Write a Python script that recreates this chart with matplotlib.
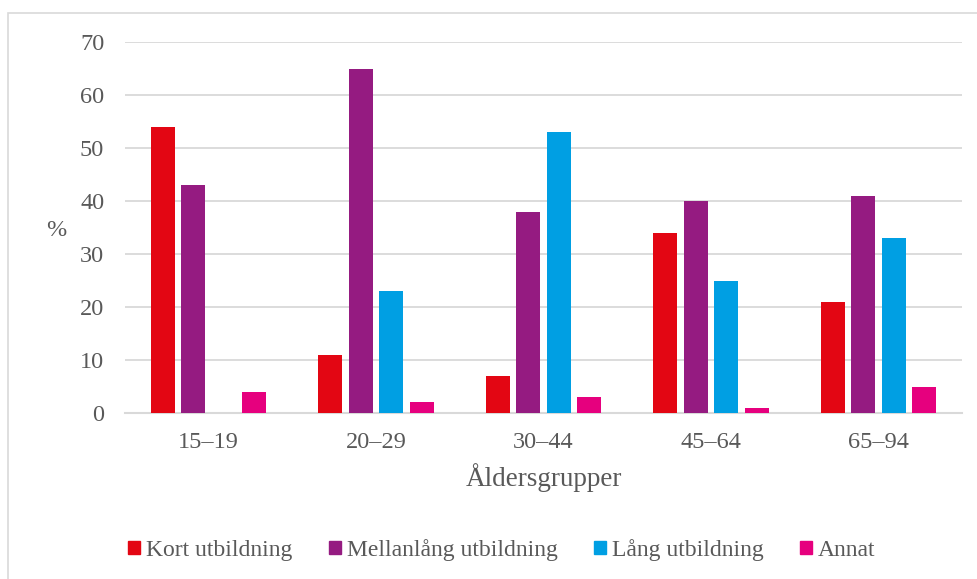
import matplotlib.pyplot as plt
import matplotlib.patches as mpatches
import numpy as np

plt.rcParams["font.family"] = ["Liberation Serif", "DejaVu Serif"]

categories = ["15–19", "20–29", "30–44", "45–64", "65–94"]
series_names = ["Kort utbildning", "Mellanlång utbildning", "Lång utbildning", "Annat"]
kort = [54, 11, 7, 34, 21]
mellan = [43, 65, 38, 40, 41]
lang = [0, 23, 53, 25, 33]
annat = [4, 2, 3, 1, 5]
series_values = [kort, mellan, lang, annat]
colors = ["#E30613", "#951B81", "#009FE3", "#E6007E"]
text_color = "#595959"
grid_color = "#D9D9D9"

W, H = 978, 579
fig = plt.figure(figsize=(W / 100, H / 100), dpi=100)
ax = fig.add_axes([125 / W, 1 - 413 / H, (962 - 125) / W, (413 - 42) / H])

x = np.arange(len(categories))
slot = 0.182
width = 0.143
for i, (name, vals, c) in enumerate(zip(series_names, series_values, colors)):
    ax.bar(x + (i - 1.5) * slot, vals, width=width, color=c, label=name, zorder=3)

ax.set_xlim(-0.5, len(categories) - 0.5)
ax.set_ylim(0, 70)
ax.set_yticks(range(0, 71, 10))
ax.set_xticks(x)
ax.set_xticklabels(categories)
ax.tick_params(axis="both", length=0, labelsize=17.5, colors=text_color)
ax.tick_params(axis="y", pad=15)
ax.tick_params(axis="x", pad=14)
ax.grid(axis="y", color=grid_color, linewidth=1.3, zorder=0)
for side in ["left", "right", "top"]:
    ax.spines[side].set_visible(False)
ax.spines["bottom"].set_color(grid_color)
ax.spines["bottom"].set_linewidth(1.5)

ax.set_xlabel("Åldersgrupper", fontsize=19.5, color=text_color, labelpad=7)
fig.text(56 / W, 1 - 231 / H, "%", fontsize=17.5, color=text_color, ha="center", va="center")

handles = [mpatches.Patch(color=c, label=n) for n, c in zip(series_names, colors)]
fig.legend(handles=handles, loc="center", bbox_to_anchor=(502 / W, 1 - 550 / H),
           ncol=4, frameon=False, fontsize=17, labelcolor=text_color,
           handlelength=0.5, handleheight=0.5, handletextpad=0.25, columnspacing=1.55)

border = mpatches.Rectangle((8 / W, -0.02), 1.0, 1 - 13 / H + 0.02, transform=fig.transFigure,
                            fill=False, edgecolor=grid_color, linewidth=1.2)
fig.patches.append(border)

fig.savefig("out.png", dpi=100)
